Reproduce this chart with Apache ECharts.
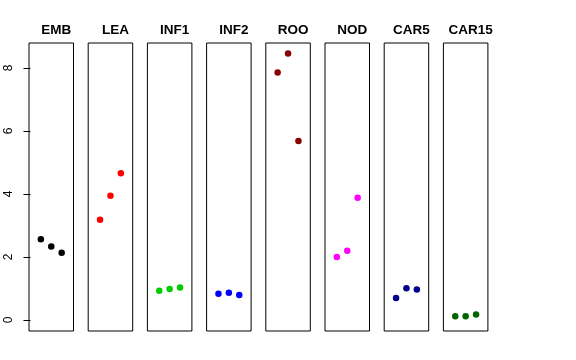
<!DOCTYPE html>
<html><head><meta charset="utf-8">
<script src="https://cdn.jsdelivr.net/npm/echarts@6/dist/echarts.min.js"></script>
<style>html,body{margin:0;padding:0;background:#fff}#c{width:576px;height:360px}</style>
</head><body><div id="c"></div>
<script>
const categories = ['EMB','LEA','INF1','INF2','ROO','NOD','CAR5','CAR15'];
const EMB   = [2.56, 2.33, 2.13];
const LEA   = [3.18, 3.94, 4.66];
const INF1  = [0.93, 0.98, 1.03];
const INF2  = [0.83, 0.86, 0.79];
const ROO   = [7.85, 8.46, 5.68];
const NOD   = [2.00, 2.20, 3.88];
const CAR5  = [0.70, 1.01, 0.97];
const CAR15 = [0.12, 0.12, 0.17];
const seriesValues = [EMB, LEA, INF1, INF2, ROO, NOD, CAR5, CAR15];
const colors = ['#000000','#FF0000','#00CD00','#0000FF','#8B0000','#FF00FF','#00008B','#006400'];
const yTicks = [0, 2, 4, 6, 8];

const panelLeft = 29, panelStep = 59.2, panelW = 44.5, panelTop = 43, panelBottom = 331;
const grids = [], xAxes = [], yAxes = [], series = [], titles = [];
categories.forEach((cat, i) => {
  const left = panelLeft + panelStep * i;
  grids.push({left: left, top: panelTop, width: panelW, height: panelBottom - panelTop,
    show: true, borderColor: '#000', borderWidth: 1, backgroundColor: 'transparent'});
  xAxes.push({type: 'value', gridIndex: i, min: -0.14, max: 4.14, show: false});
  yAxes.push({type: 'value', gridIndex: i, min: -0.35, max: 8.79,
    show: i === 0, splitLine: {show: false},
    axisLine: {show: false},
    axisTick: {show: true, length: 7, lineStyle: {color: '#000'}, customValues: yTicks},
    axisLabel: {show: true, rotate: 90, margin: 14, color: '#000', fontSize: 12,
      fontFamily: 'Liberation Sans, Arial, sans-serif', customValues: yTicks}});
  series.push({type: 'scatter', xAxisIndex: i, yAxisIndex: i,
    data: seriesValues[i].map((v, j) => [j + 1, v]),
    symbol: 'circle', symbolSize: 6.5, itemStyle: {color: colors[i], opacity: 1}, silent: true});
  titles.push({text: cat, left: left + panelW / 2, top: 18, textAlign: 'center',
    textStyle: {fontSize: 13.5, fontWeight: 'bold', color: '#000',
      fontFamily: 'Liberation Sans, Arial, sans-serif'}});
});

const chart = echarts.init(document.getElementById('c'), null, {renderer: 'canvas'});
chart.setOption({animation: false, backgroundColor: '#fff', title: titles,
  grid: grids, xAxis: xAxes, yAxis: yAxes, series: series});
</script></body></html>
